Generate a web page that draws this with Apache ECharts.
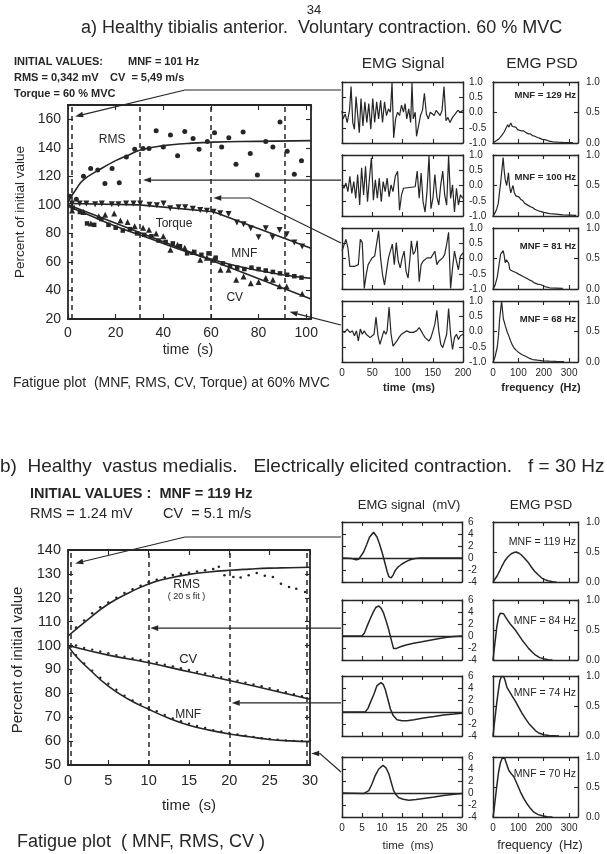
<!DOCTYPE html>
<html><head><meta charset="utf-8">
<script src="https://cdn.jsdelivr.net/npm/echarts@6/dist/echarts.min.js"></script>
<style>html,body{margin:0;padding:0;background:#fff}#c{width:607px;height:854px}</style>
</head><body><div id="c"></div>
<script>
// ================= DATA =================
// Panel a: fatigue plot (time s, percent of initial value)
const aRmsPts = [[0.8,106],[3.5,104],[6.5,120],[9.5,125.5],[12.5,124.5],[15.5,115],[18.5,125.5],[21.5,115.5],[24.5,133.5],[28,139],[31.5,139.5],[34,139.5],[37,152],[40,140.5],[43,149],[46,134.5],[49,151.5],[52.5,146.5],[55,139],[58.5,144.5],[61.5,150.5],[64.5,140.5],[67.5,147],[70.5,128.5],[73.5,151],[76.5,136],[79.5,121],[83,144.5],[86,140.5],[89,158],[92,137.5],[95,121.5],[98,131]];
const aRmsFit = [[0,102],[3.6,111.5],[6.5,117.5],[13,124.5],[20,131],[25.5,135],[30.4,138.4],[40,141.5],[50,143],[61,144],[80,144.5],[102,145]];
const aTorquePts = [[1.7,101],[4.9,101],[7.7,101],[11.4,100.5],[14.2,101],[18.4,100.5],[21.2,100.5],[24.4,101],[27.5,101],[30.3,101],[34.2,100],[37.3,99.7],[40.1,101],[42.9,97.6],[46.4,98.3],[49.2,98.3],[52.4,97.3],[55.5,96.4],[58.3,95.9],[61.1,95.2],[63.9,94.1],[67.4,93.6],[70.9,87.6],[73.7,86.4],[76.7,83.6],[80,77.3],[83,83.6],[85.9,77.3],[88.8,82.4],[91.8,79.4],[95,73.6],[98.3,70.8]];
const aTorqueFit = [[0,101],[30,100],[61,95.2],[102,69.6]];
const aMnfPts = [[2,98],[5,95],[8,87],[11,86],[14,90],[17,86],[20,84],[23,82],[26,83],[29,80],[32,79],[35,78],[38,75],[41,74],[44,73],[47,71],[50,66],[53,67],[56,65],[59,66],[62,63],[65,59],[68,57],[71,56],[74,55],[77,56],[80,55],[83,54],[86,53],[89,52],[92,51],[95,50],[98,49]];
const aMnfFit = [[0,99],[10,92],[20,85],[30,79],[40,73],[50,67],[60,62],[70,57.5],[80,54],[90,51],[102,48.5]];
const aCvPts = [[1.7,96],[6.5,95],[9.6,87],[12.9,92],[15.6,93],[19.4,94],[22,89],[25,88],[28,85],[31.5,84],[34,82.5],[37,80],[40,78],[43,68.5],[46,72],[49,70],[52.4,67],[55.5,61.5],[58.3,63],[61,61.5],[64,54.5],[67.4,54.5],[70.6,47.5],[73.7,49.8],[76.7,45],[80,46],[83,48.7],[86,47.5],[88.8,43],[91.8,42.8],[98.3,37.7]];
const aCvFit = [[0,100],[102,34]];
const aMarkTimes = [1.5, 30, 60, 91];

// Panel a: EMG signals (time ms, mV normalised) and PSD (Hz, normalised)
const sigA1 = [[0,0.05],[1.6,-0.21],[5.4,-0.05],[8.6,-0.33],[12.4,0.07],[15,0.85],[17.8,-0.33],[20.5,-0.55],[23.2,0.52],[26,-0.1],[28.6,-0.66],[31.4,0.46],[34.6,-0.44],[37.8,0.35],[41,-0.33],[44.3,0.29],[47.6,-0.55],[50.8,0.46],[54,-0.33],[57.3,0.35],[60.5,-0.21],[63.8,0.4],[67,-0.33],[70.3,0.35],[73.5,-0.1],[76.8,0.12],[80,0.01],[82.7,0.98],[85.4,-0.83],[88.6,-0.21],[91.9,0.01],[95.1,-0.1],[98.4,0.24],[101.6,0.01],[104.3,0.29],[107,-0.21],[110.3,0.12],[113.5,-0.33],[115.7,0.97],[117.8,-0.21],[121,0.01],[123.2,-0.78],[126.5,-0.44],[129.7,-0.1],[133,0.07],[136.2,0.63],[139.5,-0.05],[142.7,-0.21],[146,0.01],[149.2,0.07],[152.4,-0.1],[155.7,0.07],[158.9,0.01],[162.2,-0.1],[165.4,0.07],[168.6,0.85],[171.9,-0.27],[175.1,-0.16],[178.4,-0.33],[182.7,-0.16],[187,-0.05],[191.4,0.07],[195.7,0.01],[200,0.07]];
const sigA2 = [[0,0.02],[3.2,-0.09],[6.5,0.08],[9.7,-0.2],[13,0.3],[16.2,-0.26],[19.5,0.13],[22.7,-0.42],[25.9,0.36],[29.2,-0.64],[32.4,0.58],[35.7,-0.31],[38.9,0.63],[42.2,-0.53],[45.4,0.24],[48.6,0.91],[51.9,-0.48],[55.1,0.19],[58.4,-0.42],[61.6,0.24],[64.9,-0.53],[68.1,0.13],[71.4,-0.2],[74.6,0.24],[77.8,-0.37],[81.1,0.02],[84.3,-0.2],[88.1,0.3],[91.9,0.47],[95.1,-0.81],[98.4,-0.31],[101.6,-0.09],[104.9,-0.07],[121,-0.04],[124.3,0.47],[127.6,-0.42],[130.8,0.41],[134,-0.53],[137.3,-0.87],[140.5,-0.2],[143.8,0.97],[147,-0.76],[150.3,-0.42],[153.5,0.36],[156.8,-0.37],[160,-0.64],[163.2,0.02],[166.5,0.47],[169.7,-0.31],[173,-0.64],[176.2,0.97],[179.5,-0.42],[182.7,0.02],[185.9,-0.87],[189.2,-0.09],[192.4,-0.64],[195.7,-0.31],[200,-0.42]];
const sigA3 = [[0,0.24],[3.2,0.3],[6.5,0.63],[9.7,0.36],[13,-0.26],[16.2,-0.31],[20.5,-0.26],[23.8,-0.31],[27,-0.2],[30.3,0.63],[33.5,0.52],[36.8,-0.98],[40,-0.53],[43.2,-0.2],[46.5,-0.09],[49.7,0.02],[54,0.08],[57.3,0.13],[60.5,0.91],[63.8,0.02],[67,-0.53],[70.3,-0.87],[73.5,-0.42],[76.8,0.02],[80,0.08],[83.2,0.47],[86.5,-0.2],[89.7,0.52],[93,-0.09],[96.2,-0.31],[99.5,0.02],[102.7,0.24],[105.9,-0.42],[109.2,-0.64],[112.4,0.02],[114.6,0.58],[117.8,0.13],[121,0.24],[124.3,0.58],[127.6,-0.76],[130.8,-0.2],[134,-0.09],[137.3,-0.14],[140.5,0.02],[143.8,-0.03],[147,0.02],[150.3,0.08],[153.5,0.24],[156.8,-0.2],[160,-0.09],[163.2,-0.03],[166.5,0.02],[169.7,0.13],[173,0.47],[176.2,0.86],[179.5,-0.98],[182.7,-0.31],[185.9,0.24],[189.2,-0.09],[192.4,-0.37],[195.7,0.08],[200,0.18]];
const sigA4 = [[0,0.02],[4.3,-0.03],[8.6,0.08],[13,-0.03],[17.3,0.02],[20.5,-0.14],[23.8,0.02],[27,-0.31],[30.3,0.08],[33.5,-0.09],[36.8,0.02],[40,-0.09],[43.2,-0.03],[46.5,-0.2],[49.7,-0.14],[53,-0.09],[56.2,0.47],[59.5,-0.14],[62.7,-0.42],[65.9,-0.2],[69.2,0.02],[72.4,-0.09],[74.6,0.02],[77.8,0.8],[81.1,-0.09],[84.3,-0.48],[87.6,-0.53],[90.8,-0.31],[94,-0.2],[98.4,-0.09],[102.7,-0.03],[107,0.02],[112.4,-0.03],[117.8,-0.03],[123.2,0.02],[127.6,0.13],[130.8,0.02],[134,-0.09],[137.3,-0.2],[140.5,-0.26],[143.8,-0.31],[147,-0.2],[150.3,0.02],[153.5,0.24],[156.8,0.69],[160,0.02],[163.2,-0.42],[166.5,-0.53],[169.7,-0.48],[173,-0.09],[176.2,0.75],[179.5,-0.09],[182.7,-0.59],[185.9,-0.2],[189.2,-0.09],[192.4,-0.26],[195.7,-0.14],[200,-0.09]];
const psdA1 = [[0,0],[4,0.01],[14,0.04],[24,0.07],[34,0.12],[44,0.18],[52,0.25],[58,0.3],[63,0.26],[70,0.33],[76,0.27],[83,0.25],[90,0.26],[97,0.22],[103,0.23],[110,0.2],[120,0.2],[130,0.17],[140,0.15],[148,0.15],[156,0.12],[165,0.11],[175,0.09],[183,0.08],[195,0.06],[209,0.05],[222,0.03],[236,0.02],[255,0.015],[275,0.01],[295,0.008],[315,0.005]];
const psdA2 = [[0,0],[8,0.05],[15,0.12],[21,0.21],[26,0.4],[30,0.54],[35,0.75],[40,0.96],[44,0.75],[48,0.6],[54,0.5],[58,0.62],[61,0.71],[65,0.5],[70,0.38],[75,0.45],[79,0.5],[84,0.38],[90,0.33],[97,0.3],[103,0.31],[110,0.27],[118,0.25],[124,0.21],[130,0.19],[140,0.17],[148,0.15],[156,0.14],[165,0.11],[175,0.09],[183,0.08],[200,0.06],[223,0.04],[250,0.03],[275,0.02],[300,0.015],[328,0.01]];
const psdA3 = [[0,0],[8,0.06],[17,0.2],[24,0.4],[30,0.57],[35,0.55],[40,0.63],[44,0.55],[48,0.43],[53,0.48],[57,0.51],[62,0.42],[66,0.32],[72,0.3],[78,0.29],[83,0.27],[90,0.27],[97,0.25],[103,0.24],[110,0.23],[117,0.21],[124,0.2],[130,0.18],[137,0.17],[143,0.15],[153,0.13],[163,0.1],[176,0.08],[189,0.07],[205,0.04],[223,0.02],[250,0.015],[275,0.01]];
const psdA4 = [[0,0],[8,0.08],[17,0.25],[22,0.45],[26,0.7],[30,0.85],[34,1.0],[38,0.82],[41,0.7],[45,0.65],[48,0.6],[52,0.62],[57,0.48],[63,0.42],[70,0.34],[76,0.28],[83,0.23],[92,0.19],[103,0.15],[115,0.12],[130,0.09],[143,0.06],[156,0.04],[175,0.03],[196,0.02],[222,0.015],[249,0.01],[280,0.005]];
const psdALabels = ['MNF = 129 Hz','MNF = 100 Hz','MNF = 81 Hz','MNF = 68 Hz'];

// Panel b: fatigue plot (time s, percent of initial value)
const bRmsPts = [[1,107.5],[2,110.5],[3,113.5],[4,116],[5,118],[6,120],[7,122],[8,123.5],[9,125],[10,126.5],[11,127.5],[12,128.5],[13,129.5],[14,130],[15,130.5],[16,131],[17,131.5],[18,132],[18.7,133],[19.4,129.4],[20.5,128.7],[21.4,128.5],[22.4,129.4],[23.4,130.4],[24.4,129.2],[25.4,128.7],[26.4,125.9],[27.4,124.5],[28.3,123.8],[29.4,122.4]];
const bRmsFit = [[0,104],[2.5,111],[5,117.4],[7.5,122],[10,125.8],[12.5,128.2],[15,129.8],[17.5,130.8],[20,131.5],[22.5,132],[25,132.4],[27.5,132.6],[30,132.8]];
const bCvPts = [[1,100],[2,99],[3,98.3],[4,97.5],[5,96.8],[6,96],[7,95.3],[8,94.6],[9,94],[10,93.5],[11,92.8],[12,92],[13,91.3],[14,90.5],[15,89.8],[16,89],[17,88.3],[18,87.5],[19,86.8],[20,86],[21,85.3],[22,84.5],[23,83.7],[24,83],[25,82.2],[26,81.3],[27,80.5],[28,79.6],[29,78.8],[30,78]];
const bCvFit = [[0,100],[5,96],[10,92.8],[15,89],[20,85.4],[25,81.5],[30,77.5]];
const bMnfPts = [[1,96],[2,92.5],[3,89.5],[4,86.5],[5,84],[6,81.5],[7,79],[8,77],[9,75.5],[10,74],[11,72.5],[12,71],[13,69.5],[14,68.3],[15,67.3],[16,66.3],[17,65.5],[18,64.6],[19,64],[20,63.4],[21,62.8],[22,62.3],[23,61.7],[24,61.2],[25,60.9],[26,60.6],[27,60.3],[28,60.1],[29,60],[30,60.3]];
const bMnfFit = [[0,100],[1,95.5],[2.5,90.5],[5,83],[7.5,77.5],[10,73.3],[12.5,69.6],[15,66.6],[17.5,64.6],[20,63],[22.5,61.8],[25,60.7],[27.5,60.1],[30,59.8]];
const bMarkTimes = [0.3, 10, 20, 29.6];

// Panel b: M-wave signals (ms, mV) and PSD (Hz, normalised)
const sigB1 = [[0,0],[2.5,-0.1],[3.5,-0.3],[4.2,-0.2],[5.4,1],[6.2,2.3],[6.9,3.5],[7.9,4.3],[8.75,3.5],[9.4,2.3],[10,1],[10.8,-1],[11.3,-2.3],[11.7,-3.1],[12.3,-3.3],[12.8,-2.8],[13.3,-2.1],[14,-1.5],[15,-1],[16,-0.6],[17,-0.3],[18.3,-0.1],[19.6,0],[25,0],[30,0]];
const sigB2 = [[0,0],[5,0],[5.6,0.5],[6.25,1.6],[7,2.8],[7.9,4.1],[8.5,4.8],[9.2,5],[9.8,4.6],[10.4,3.8],[11,2.6],[11.7,1],[12.3,-0.6],[12.9,-2.1],[13.5,-2.1],[14.6,-1.8],[16,-1.5],[17.9,-1.2],[20,-0.95],[22,-0.7],[24,-0.45],[26.25,-0.2],[28,-0.1],[30,0]];
const sigB3 = [[0,0],[5.8,0],[6.5,0.6],[7.1,1.6],[8,3],[8.75,4.4],[9.75,4.9],[10.3,4.6],[10.8,3.8],[11.4,2.3],[12.1,0.5],[12.8,-0.6],[13.75,-1.3],[15,-1.45],[16.25,-1.45],[18,-1.3],[20.4,-1],[23,-0.75],[25.4,-0.5],[28,-0.35],[30,-0.2]];
const sigB4 = [[0,0],[5.4,-0.1],[6.7,0.4],[7.5,1.5],[8.3,2.9],[9.2,4],[10.25,4.6],[11,4.2],[11.7,3.2],[12.3,1.8],[12.9,0.4],[13.5,-0.3],[14.2,-0.8],[15.3,-1.05],[16.7,-1.2],[18.5,-1.1],[20.4,-0.9],[23,-0.65],[25.4,-0.4],[28,-0.2],[30,-0.1]];
const psdB1 = [[0,0],[6,0.02],[16,0.1],[26,0.18],[36,0.27],[46,0.35],[59,0.42],[72,0.47],[82,0.49],[92,0.5],[102,0.48],[112,0.45],[125,0.39],[138,0.33],[151,0.25],[164,0.18],[178,0.12],[191,0.07],[204,0.04],[217,0.02],[235,0.005],[250,0]];
const psdB2 = [[0,0],[4,0.15],[9,0.33],[15,0.55],[22,0.72],[29,0.78],[36,0.79],[42,0.77],[49,0.72],[58,0.66],[68,0.6],[78,0.55],[88,0.5],[101,0.42],[115,0.33],[128,0.26],[141,0.19],[155,0.13],[168,0.08],[184,0.04],[200,0.02],[217,0.005],[234,0]];
const psdB3 = [[0,0],[4,0.15],[9,0.34],[15,0.56],[22,0.78],[27,0.92],[33,0.99],[42,0.99],[48,0.92],[55,0.81],[65,0.74],[75,0.67],[88,0.58],[101,0.48],[114,0.38],[128,0.29],[141,0.21],[154,0.15],[167,0.09],[180,0.05],[200,0.02],[220,0.01],[260,0]];
const psdB4 = [[0,0],[4,0.12],[9,0.3],[15,0.52],[22,0.75],[29,0.9],[36,0.98],[46,0.98],[54,0.88],[62,0.78],[72,0.72],[82,0.67],[95,0.55],[108,0.42],[121,0.31],[134,0.22],[148,0.14],[161,0.08],[178,0.04],[194,0.02],[214,0.005],[234,0]];
const psdBLabels = ['MNF = 119 Hz','MNF = 84 Hz','MNF = 74 Hz','MNF = 70 Hz'];

// ================= BUILD =================
const FONT = '"Liberation Sans", Arial, Helvetica, sans-serif';
const INK = '#262626';
const grids = [], xAxes = [], yAxes = [], series = [];

function addPanel(o) {
  const gi = grids.length;
  grids.push({left:o.left, top:o.top, width:o.width, height:o.height, containLabel:false, outerBoundsMode:'none'});
  const tick = {show:true, inside:true, length:o.tickLen||4, lineStyle:{color:INK, width:1.1}};
  const line = {show:true, onZero:false, lineStyle:{color:INK, width:o.frameW||1.4}};
  const xi = xAxes.length, yi = yAxes.length;
  const xb = {gridIndex:gi, type:'value', min:o.xMin, max:o.xMax, interval:o.xInt, splitLine:{show:false}, axisLine:line, axisTick:tick};
  xAxes.push(Object.assign({}, xb, {position:'bottom', axisLabel: o.xLabel ? {show:true, color:INK, fontFamily:FONT, fontSize:o.xFont, fontWeight:o.fw||'normal', margin:o.xMargin||5, formatter:o.xFmt} : {show:false}}));
  xAxes.push(Object.assign({}, xb, {position:'top', axisLabel:{show:false}}));
  const yb = {gridIndex:gi, type:'value', min:o.yMin, max:o.yMax, interval:o.yInt, splitLine:{show:false}, axisLine:line, axisTick:tick};
  const lab = {show:true, color:INK, fontFamily:FONT, fontSize:o.yFont, fontWeight:o.fw||'normal', margin:o.yMargin||5, formatter:o.yFmt};
  yAxes.push(Object.assign({}, yb, {position:'left', axisLabel: o.ySide==='left' ? lab : {show:false}}));
  yAxes.push(Object.assign({}, yb, {position:'right', axisLabel: o.ySide==='right' ? lab : {show:false}}));
  return {xi, yi};
}
function lineS(ax, data, extra) {
  series.push(Object.assign({type:'line', xAxisIndex:ax.xi, yAxisIndex:ax.yi, data, showSymbol:false, symbol:'none', clip:true,
    lineStyle:{color:INK, width:1.3}, itemStyle:{color:INK}}, extra||{}));
  return series.length-1;
}
function scat(ax, data, sym, size, extra) {
  series.push(Object.assign({type:'scatter', xAxisIndex:ax.xi, yAxisIndex:ax.yi, data, symbol:sym, symbolSize:size,
    itemStyle:{color:INK, opacity:1}}, extra||{}));
  return series.length-1;
}
function vMarks(times) {
  return {silent:true, symbol:'none', label:{show:false}, lineStyle:{color:INK, width:1.5, type:[5,4]}, data:times.map(t=>({xAxis:t}))};
}

// Main plot a
const gA = addPanel({left:68, top:105, width:243, height:214, xMin:0, xMax:102, xInt:20, yMin:20, yMax:170, yInt:20,
  xLabel:true, xFont:14, xMargin:7, xFmt:v=>(v%20===0?String(v):''), ySide:'left', yFont:14, yMargin:7, yFmt:v=>(v%20===0&&v<=160?String(v):''), frameW:1.8, tickLen:5});
const sA = lineS(gA, aRmsFit, {smooth:true, lineStyle:{color:INK,width:1.6}, markLine:vMarks(aMarkTimes)});
scat(gA, aRmsPts, 'circle', 5);
lineS(gA, aTorqueFit, {lineStyle:{color:INK,width:1.6}});
scat(gA, aTorquePts, 'triangle', 6, {symbolRotate:180});
lineS(gA, aMnfFit, {smooth:true, lineStyle:{color:INK,width:1.6}});
scat(gA, aMnfPts, 'rect', 4.5);
lineS(gA, aCvFit, {lineStyle:{color:INK,width:1.6}});
scat(gA, aCvPts, 'triangle', 6);

// Main plot b
const gB = addPanel({left:68, top:550, width:242, height:215, xMin:0, xMax:30, xInt:5, yMin:50, yMax:140, yInt:10,
  xLabel:true, xFont:14.5, xMargin:8, xFmt:v=>String(v), ySide:'left', yFont:14.5, yMargin:7, yFmt:v=>String(v), frameW:1.8, tickLen:5});
const sB = lineS(gB, bRmsFit, {smooth:true, lineStyle:{color:INK,width:1.6}, markLine:vMarks(bMarkTimes)});
scat(gB, bRmsPts, 'circle', 2.6);
lineS(gB, bCvFit, {smooth:true, lineStyle:{color:INK,width:1.6}});
scat(gB, bCvPts, 'circle', 2.4);
lineS(gB, bMnfFit, {smooth:true, lineStyle:{color:INK,width:1.6}});
scat(gB, bMnfPts, 'circle', 2.4);

// Small panels a
const sigATops = [82,155,228,301];
const sigsA = [sigA1, sigA2, sigA3, sigA4];
const psdsA = [psdA1, psdA2, psdA3, psdA4];
sigsA.forEach((d,i)=>{
  const last = i===3;
  const g = addPanel({left:342, top:sigATops[i], width:121, height:61, xMin:0, xMax:200, xInt:50, yMin:-1, yMax:1, yInt:0.5,
    xLabel:last, xFont:10, xMargin:6, xFmt:v=>String(v), ySide:'right', yFont:10, yMargin:6, yFmt:v=>v.toFixed(1), tickLen:4});
  lineS(g, d, {lineStyle:{color:INK,width:1.2}});
});
psdsA.forEach((d,i)=>{
  const last = i===3;
  const g = addPanel({left:493, top:sigATops[i], width:85, height:61, xMin:0, xMax:335, xInt:100, yMin:0, yMax:1, yInt:0.5,
    xLabel:last, xFont:10, xMargin:6, xFmt:v=>(v%100===0?String(v):''), ySide:'right', yFont:10, yMargin:8, yFmt:v=>v.toFixed(1), tickLen:4});
  lineS(g, d, {lineStyle:{color:INK,width:1.2}});
});

// Small panels b
const sigBTops = [522,600,676,757];
const sigsB = [sigB1, sigB2, sigB3, sigB4];
const psdsB = [psdB1, psdB2, psdB3, psdB4];
sigsB.forEach((d,i)=>{
  const last = i===3;
  const g = addPanel({left:342, top:sigBTops[i], width:120, height:60, xMin:0, xMax:30, xInt:5, yMin:-4, yMax:6, yInt:2,
    xLabel:last, xFont:10, xMargin:6, xFmt:v=>String(v), ySide:'right', yFont:10, yMargin:6, yFmt:v=>String(v), tickLen:4});
  lineS(g, d, {lineStyle:{color:INK,width:1.5}, markLine:{silent:true, symbol:'none', label:{show:false}, lineStyle:{color:INK,width:1.3,type:'solid'}, data:[{yAxis:0}]}});
});
psdsB.forEach((d,i)=>{
  const last = i===3;
  const g = addPanel({left:493, top:sigBTops[i], width:85, height:60, xMin:0, xMax:335, xInt:100, yMin:0, yMax:1, yInt:0.5,
    xLabel:last, xFont:10, xMargin:6, xFmt:v=>(v%100===0?String(v):''), ySide:'right', yFont:10, yMargin:8, yFmt:v=>v.toFixed(1), tickLen:4});
  lineS(g, d, {lineStyle:{color:INK,width:1.5}});
});

const chart = echarts.init(document.getElementById('c'), null, {renderer:'canvas'});
chart.setOption({animation:false, backgroundColor:'#fff', grid:grids, xAxis:xAxes, yAxis:yAxes, series});

// ================= TEXT & ANNOTATIONS =================
function txt(x, y, text, size, opts) {
  opts = opts || {};
  const align = opts.align || 'left';
  return {type:'text', x, y, rotation:opts.rot||0, silent:true,
    style:{text, fill:INK, font:(opts.bold?'bold ':'')+size+'px '+FONT, align, textAlign:align, verticalAlign:'middle', textVerticalAlign:'middle'}};
}
function px(si, pt) { return chart.convertToPixel({seriesIndex:si}, pt); }
function arrow(pts) {
  const n = pts.length, a = pts[n-2], b = pts[n-1];
  const ang = Math.atan2(b[1]-a[1], b[0]-a[0]);
  const L = 8, W = 2.8;
  const bx = b[0]-L*Math.cos(ang), by = b[1]-L*Math.sin(ang);
  const ox = -Math.sin(ang)*W, oy = Math.cos(ang)*W;
  return [
    {type:'polyline', silent:true, shape:{points:pts.slice(0,n-1).concat([[bx,by]])}, style:{stroke:INK, lineWidth:1.2, fill:null}},
    {type:'polygon', silent:true, shape:{points:[b,[bx+ox,by+oy],[bx-ox,by-oy]]}, style:{fill:INK}}
  ];
}
const G = [];
// panel a texts
G.push(txt(314, 10, '34', 13, {align:'center'}));
G.push(txt(81, 28, 'a) Healthy tibialis anterior.  Voluntary contraction. 60 % MVC', 18));
G.push(txt(14, 62, 'INITIAL VALUES:', 11, {bold:true}));
G.push(txt(128, 62, 'MNF = 101 Hz', 11, {bold:true}));
G.push(txt(14, 78, 'RMS = 0,342 mV', 11, {bold:true}));
G.push(txt(110, 78, 'CV  = 5,49 m/s', 11, {bold:true}));
G.push(txt(14, 94, 'Torque = 60 % MVC', 11, {bold:true}));
G.push(txt(403, 64, 'EMG Signal', 15.5, {align:'center'}));
G.push(txt(542, 64, 'EMG PSD', 15.5, {align:'center'}));
G.push(txt(20, 212, 'Percent of initial value', 13.5, {align:'center', rot:Math.PI/2}));
G.push(txt(188, 350, 'time  (s)', 14, {align:'center'}));
G.push(txt(13, 383, 'Fatigue plot  (MNF, RMS, CV, Torque) at 60% MVC', 14));
G.push(txt(409, 388, 'time  (ms)', 11, {align:'center', bold:true}));
G.push(txt(541, 388, 'frequency  (Hz)', 11, {align:'center', bold:true}));
const psdALabelY = [95, 177, 246, 319];
psdALabels.forEach((t,i)=>G.push(txt(576, psdALabelY[i], t, 9.5, {align:'right', bold:true})));
// panel b texts
G.push(txt(0, 467, 'b)  Healthy  vastus medialis.   Electrically elicited contraction.   f = 30 Hz', 19));
G.push(txt(30, 494, 'INITIAL VALUES :  MNF = 119 Hz', 14.5, {bold:true}));
G.push(txt(30, 514, 'RMS = 1.24 mV', 14.5));
G.push(txt(163, 514, 'CV  = 5.1 m/s', 14.5));
G.push(txt(409, 505, 'EMG signal  (mV)', 13, {align:'center'}));
G.push(txt(541, 505, 'EMG PSD', 13.5, {align:'center'}));
G.push(txt(18, 660, 'Percent of initial value', 15, {align:'center', rot:Math.PI/2}));
G.push(txt(189, 806, 'time  (s)', 15, {align:'center'}));
G.push(txt(17, 842, 'Fatigue plot  ( MNF, RMS, CV )', 18));
G.push(txt(408, 846, 'time  (ms)', 11.5, {align:'center'}));
G.push(txt(540, 846, 'frequency  (Hz)', 12.5, {align:'center'}));
const psdBLabelY = [542, 621, 693, 774];
psdBLabels.forEach((t,i)=>G.push(txt(576, psdBLabelY[i], t, 10.5, {align:'right'})));

// in-plot labels (data coordinates)
[[[18.5,146],'RMS',12],[[44.5,87],'Torque',12],[[74,66],'MNF',12],[[70,35],'CV',12]].forEach(([p,t,s])=>{
  const q = px(sA, p); G.push(txt(q[0], q[1], t, s, {align:'center'}));
});
[[[14.7,125.5],'RMS',12],[[14.7,120.5],'( 20 s fit )',9],[[14.9,94],'CV',13],[[14.9,71],'MNF',12]].forEach(([p,t,s])=>{
  const q = px(sB, p); G.push(txt(q[0], q[1], t, s, {align:'center'}));
});

// connector arrows from EMG panels to time points
[
  [[341,90],[185,90], px(sA,[3,162])],
  [[341,180], px(sA,[31.5,117.4])],
  [[341,243],[250,198], px(sA,[61,104.8])],
  [[341,325], px(sA,[93,25])],
  [[341,537],[185,537], px(sB,[0.9,134.4])],
  [[341,629], px(sB,[10.2,107.3])],
  [[341,703], px(sB,[20.3,76])],
  [[341,772],[320,753], px(sB,[30.15,54.8])]
].forEach(p=>{
  if (p.length === 2 && Math.abs(p[0][1]-p[1][1]) < 6) p[0] = [p[0][0], p[1][1]];
  if (p.length === 3 && Math.abs(p[1][1]-p[2][1]) < 6) p[1] = [p[1][0], p[2][1]];
  arrow(p).forEach(e=>G.push(e));
});

chart.setOption({graphic:G});
</script>
</body></html>
